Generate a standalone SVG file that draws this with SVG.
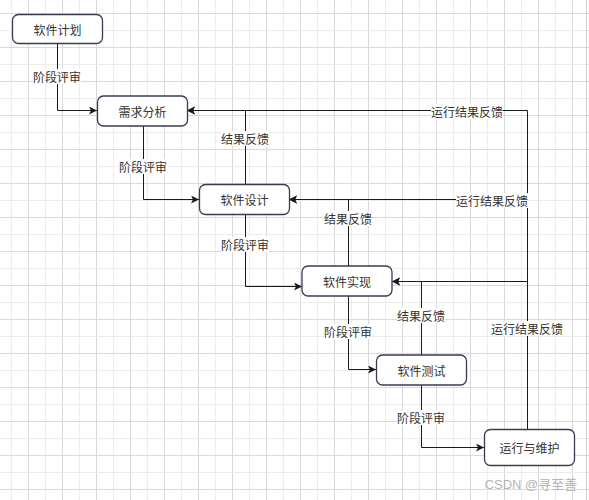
<svg xmlns="http://www.w3.org/2000/svg" width="589" height="500" viewBox="0 0 589 500">
<defs>
<pattern id="grid" x="11" y="13" width="34" height="34" patternUnits="userSpaceOnUse">
<line x1="0.5" y1="0" x2="0.5" y2="34" stroke="#ececec" stroke-width="1"/>
<line x1="17.5" y1="0" x2="17.5" y2="34" stroke="#d9d9d9" stroke-width="1"/>
<line x1="0" y1="17.5" x2="34" y2="17.5" stroke="#ececec" stroke-width="1"/>
<line x1="0" y1="0.5" x2="34" y2="0.5" stroke="#d9d9d9" stroke-width="1"/>
</pattern>
<marker id="arr" markerUnits="userSpaceOnUse" markerWidth="10" markerHeight="10" refX="8" refY="4" orient="auto">
<path d="M0,0 L8,4 L0,8 L2,4 Z" fill="#1a1a1a"/>
</marker>
</defs>
<style>
.node rect{fill:#ffffff;stroke:#3b3b55;stroke-width:1.3}
.node text,.lbl text{font-family:"Noto Sans CJK SC","Noto Sans",sans-serif;font-size:12px;fill:#333333;text-anchor:middle;dominant-baseline:central}
.edge{fill:none;stroke:#1a1a1a;stroke-width:1;marker-end:url(#arr)}
.lbl rect{fill:#ffffff}
</style>
<rect x="0" y="0" width="589" height="500" fill="#ffffff"/>
<rect x="0" y="0" width="589" height="500" fill="url(#grid)"/>
<line x1="586.5" y1="0" x2="586.5" y2="500" stroke="#cfcfcf" stroke-width="1"/>

<g id="connectors">
<path class="edge" d="M57.5,43 V110.5 H97"/>
<path class="edge" d="M143.5,126 V199.5 H199"/>
<path class="edge" d="M245.5,214 V286.5 H302"/>
<path class="edge" d="M348.5,296 V369.5 H376"/>
<path class="edge" d="M421.5,385 V447.5 H484"/>
<path class="edge" d="M245.5,184 V110.5 H187"/>
<path class="edge" d="M348.5,266 V199.5 H289"/>
<path class="edge" d="M421.5,355 V281.5 H392"/>
<path class="edge" d="M527.5,429 V110.5 H187"/>
<path class="edge" d="M527.5,429 V199.5 H289"/>
<path class="edge" d="M527.5,429 V281.5 H392"/>
<g class="lbl">
<rect x="33" y="69" width="48" height="15"/><text x="57" y="76">阶段评审</text>
<rect x="119" y="159" width="48" height="15"/><text x="143" y="166">阶段评审</text>
<rect x="221" y="237" width="48" height="15"/><text x="245" y="244">阶段评审</text>
<rect x="324" y="324" width="48" height="15"/><text x="348" y="331">阶段评审</text>
<rect x="397" y="410" width="48" height="15"/><text x="421" y="417">阶段评审</text>
<rect x="221" y="131" width="48" height="15"/><text x="245" y="138">结果反馈</text>
<rect x="324" y="211" width="48" height="15"/><text x="348" y="218">结果反馈</text>
<rect x="397" y="308" width="48" height="15"/><text x="421" y="315">结果反馈</text>
<rect x="431" y="104" width="72" height="15"/><text x="467" y="111">运行结果反馈</text>
<rect x="456" y="193" width="72" height="15"/><text x="492" y="200">运行结果反馈</text>
<rect x="491" y="321" width="72" height="15"/><text x="527" y="328">运行结果反馈</text>
</g>
</g>

<g id="n1" class="node"><rect x="12.5" y="14.5" width="90" height="29" rx="6"/><text x="57.5" y="29">软件计划</text></g>
<g id="n2" class="node"><rect x="97.5" y="96" width="90" height="30" rx="6"/><text x="142.5" y="111">需求分析</text></g>
<g id="n3" class="node"><rect x="199.5" y="184.5" width="90" height="30" rx="6"/><text x="244.5" y="199.5">软件设计</text></g>
<g id="n4" class="node"><rect x="302" y="266" width="90" height="30" rx="6"/><text x="347" y="281">软件实现</text></g>
<g id="n5" class="node"><rect x="376.5" y="355" width="90" height="30" rx="6"/><text x="421.5" y="370">软件测试</text></g>
<g id="n6" class="node"><rect x="484.5" y="429.5" width="90" height="36" rx="6"/><text x="529.5" y="447.5">运行与维护</text></g>

<text x="531" y="484" font-family="'Liberation Sans','Noto Sans CJK SC',sans-serif" font-size="13" fill="#b4b4b4" text-anchor="middle" dominant-baseline="central">CSDN @寻至善</text>
</svg>
